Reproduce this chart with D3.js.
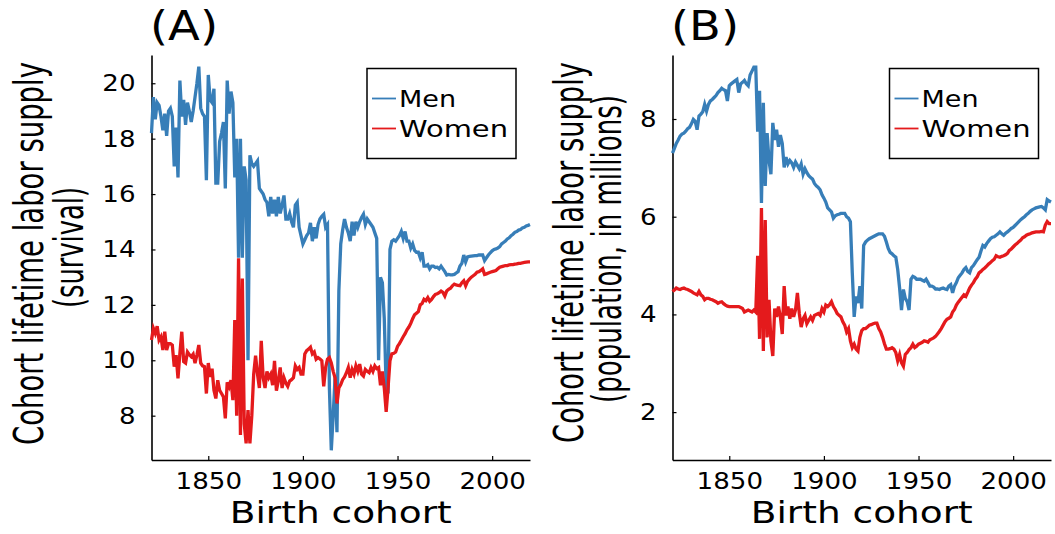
<!DOCTYPE html>
<html><head><meta charset="utf-8">
<script src="https://cdn.jsdelivr.net/npm/d3@7"></script>
<style>
html,body{margin:0;padding:0;background:#fff;}
svg{display:block;}
text{font-family:"DejaVu Sans",sans-serif;fill:#000;}
</style></head>
<body>
<svg id="chart" width="1055" height="534"></svg>
<script>
// ---------- DATA ----------
const startYear = 1820;
const endYear = 2020;
const seriesNames = ["Men", "Women"];
const panelTitles = ["(A)", "(B)"];
const xLabel = "Birth cohort";
const yLabelsA = ["Cohort lifetime labor supply", "(survival)"];
const yLabelsB = ["Cohort lifetime labor supply", "(population, in millions)"];
const xTicks = [1850, 1900, 1950, 2000];
const yTicksA = [8, 10, 12, 14, 16, 18, 20];
const yTicksB = [2, 4, 6, 8];

// Panel A: survival-based lifetime labor supply, one value per year 1820..2020
const menA = [
18.2,19.5,18.7,19.3,19.2,18.8,18.3,18.9,18.1,19.0,
19.1,18.8,17.0,18.4,16.6,20.1,18.8,19.4,18.5,19.3,
19.0,18.6,19.0,19.5,20.0,20.6,19.1,18.9,18.8,16.5,
20.3,19.4,19.3,19.8,16.4,16.4,17.9,18.2,18.6,16.2,
20.1,18.9,19.7,19.3,16.6,18.0,13.7,18.0,13.7,17.0,
16.5,10.0,17.4,17.1,17.0,17.1,17.2,16.2,16.1,16.0,
15.8,15.7,15.2,15.9,15.3,15.8,15.2,15.9,15.3,15.6,
15.95,15.1,15.1,15.3,15.0,14.8,15.6,15.7,14.8,14.5,
14.2,14.35,14.5,14.6,14.96,14.3,14.8,14.4,14.9,15.1,
15.2,15.27,14.8,14.9,9.0,6.75,8.0,9.4,7.4,12.5,
14.2,14.7,15.1,14.8,14.6,14.3,15.0,14.5,15.0,14.8,
15.0,15.15,15.27,14.9,15.1,15.0,14.9,14.8,14.6,14.4,
10.0,13.0,12.8,11.5,9.0,8.8,14.0,14.3,14.35,14.3,
14.4,14.5,14.65,14.4,14.65,14.3,14.3,14.05,14.2,13.97,
13.9,13.9,13.7,13.9,13.4,13.4,13.45,13.3,13.4,13.4,
13.35,13.36,13.3,13.4,13.3,13.2,13.08,13.1,13.08,13.08,
13.1,13.15,13.2,13.4,13.5,13.8,13.55,13.73,13.75,13.76,
13.77,13.78,13.78,13.8,13.8,13.8,13.6,13.7,13.8,13.88,
13.95,14.0,14.02,14.05,14.1,14.2,14.25,14.3,14.38,14.42,
14.5,14.55,14.62,14.65,14.7,14.72,14.78,14.8,14.85,14.87,
14.9];
const womenA = [
10.73,11.15,10.97,11.23,10.73,10.85,10.37,11.03,10.37,10.6,
10.6,10.55,9.77,10.19,9.35,10.25,11.03,9.95,9.9,10.3,
10.2,10.13,10.22,9.9,10.19,10.55,9.9,9.8,9.77,8.8,
9.9,9.4,9.7,8.92,8.62,9.28,8.92,8.8,8.68,7.9,
9.2,9.04,9.28,8.56,11.45,8.0,13.68,7.3,12.95,7.7,
7.0,8.2,7.0,8.0,9.5,10.17,9.5,9.0,10.7,9.37,
9.0,9.6,9.37,9.5,9.1,9.98,8.9,9.25,9.74,9.0,
9.37,9.18,9.06,9.25,9.3,9.37,9.8,9.67,9.74,9.5,
9.5,10.23,10.35,10.4,10.47,10.23,10.3,10.04,10.1,10.05,
9.98,9.06,9.74,10.04,10.1,9.9,9.6,9.37,8.44,9.0,
9.12,9.3,9.4,9.55,9.74,9.37,9.67,9.5,9.8,9.6,
9.86,9.5,9.43,9.67,9.6,9.55,9.74,9.6,9.8,9.7,
9.74,9.1,9.6,9.0,8.14,9.0,9.98,10.23,10.25,10.3,
10.5,10.6,10.72,10.85,10.96,11.1,11.2,11.33,11.5,11.64,
11.7,11.76,12.0,12.05,12.2,12.15,12.26,12.13,12.2,12.3,
12.38,12.4,12.44,12.5,12.45,12.32,12.5,12.56,12.6,12.69,
12.75,12.72,12.7,12.69,12.8,12.87,12.69,12.85,12.93,13.0,
13.05,13.1,13.18,13.2,13.24,13.3,13.1,13.12,13.15,13.18,
13.2,13.22,13.24,13.3,13.36,13.38,13.4,13.42,13.42,13.44,
13.45,13.45,13.47,13.48,13.5,13.5,13.52,13.53,13.54,13.55,
13.55];

// Panel B: population-based lifetime labor supply (millions), 1820..2020
const menB = [
7.30,7.40,7.50,7.57,7.65,7.69,7.71,7.75,7.80,7.83,
7.90,7.99,7.95,7.78,8.06,8.10,8.15,8.30,8.16,8.30,
8.37,8.40,8.44,8.48,8.54,8.58,8.63,8.60,8.58,8.37,
8.68,8.72,8.75,8.78,8.81,8.54,8.72,8.75,8.79,8.72,
8.68,8.90,8.98,9.06,9.06,7.74,8.58,6.28,8.33,6.63,
7.71,7.15,6.87,7.92,7.57,7.78,7.43,7.67,7.50,7.01,
7.22,7.08,7.15,7.10,7.01,7.12,7.05,6.98,7.08,6.87,
6.98,6.90,6.84,6.80,6.77,6.68,6.63,6.60,6.55,6.45,
6.38,6.30,6.18,6.14,6.10,5.97,6.02,6.04,6.05,6.07,
6.07,6.07,6.00,5.97,5.90,4.85,3.95,4.37,4.23,4.58,
4.12,5.41,5.48,5.52,5.55,5.57,5.59,5.61,5.63,5.65,
5.65,5.65,5.60,5.48,5.35,5.27,5.24,5.20,5.17,4.92,
4.54,4.09,4.51,4.33,4.26,4.09,4.72,4.78,4.76,4.72,
4.72,4.72,4.70,4.68,4.72,4.65,4.58,4.58,4.56,4.52,
4.52,4.51,4.53,4.54,4.52,4.51,4.58,4.61,4.44,4.58,
4.65,4.75,4.80,4.85,4.92,4.96,4.88,4.85,4.96,5.00,
5.06,5.12,5.17,5.30,5.41,5.38,5.45,5.50,5.55,5.58,
5.59,5.62,5.65,5.69,5.65,5.62,5.66,5.69,5.72,5.76,
5.78,5.82,5.86,5.90,5.94,5.97,6.00,6.04,6.07,6.11,
6.14,6.16,6.18,6.19,6.20,6.21,6.18,6.14,6.35,6.32,
6.30];
const womenB = [
4.47,4.50,4.54,4.52,4.51,4.53,4.54,4.52,4.51,4.49,
4.47,4.44,4.42,4.40,4.47,4.40,4.37,4.30,4.33,4.33,
4.31,4.30,4.28,4.26,4.23,4.25,4.26,4.22,4.19,4.17,
4.16,4.16,4.16,4.16,4.16,4.16,4.14,4.12,4.05,4.07,
4.09,4.07,4.05,4.09,4.05,5.20,3.50,6.18,3.25,5.93,
3.53,4.30,3.46,3.15,4.12,3.95,4.16,3.95,3.60,4.58,
3.98,4.16,3.91,4.12,3.95,4.09,4.44,4.02,3.74,3.91,
3.98,3.81,3.88,3.95,3.88,3.98,4.00,4.02,3.98,4.12,
4.05,4.19,4.16,4.20,4.26,4.16,4.10,4.02,3.98,3.95,
3.85,3.78,3.64,3.71,3.46,3.32,3.39,3.29,3.25,3.53,
3.67,3.71,3.71,3.74,3.78,3.79,3.81,3.82,3.82,3.71,
3.64,3.53,3.40,3.29,3.29,3.30,3.32,3.29,3.22,3.05,
3.18,3.01,2.94,3.18,3.22,3.28,3.32,3.39,3.32,3.35,
3.39,3.41,3.43,3.46,3.45,3.43,3.48,3.50,3.52,3.55,
3.60,3.65,3.71,3.78,3.85,3.90,3.92,3.95,4.05,4.10,
4.19,4.25,4.30,4.35,4.40,4.37,4.45,4.54,4.60,4.65,
4.72,4.77,4.85,4.88,4.92,4.95,4.99,5.03,5.06,5.10,
5.13,5.20,5.18,5.17,5.19,5.20,5.22,5.25,5.31,5.34,
5.38,5.42,5.45,5.49,5.52,5.57,5.59,5.62,5.64,5.65,
5.67,5.68,5.69,5.69,5.69,5.70,5.69,5.83,5.90,5.86,
5.86];

const colors = ["#377eb8", "#e41a1c"];

// ---------- DRAW ----------
const svg = d3.select("#chart");
const years = d3.range(startYear, endYear + 1);

function panel(cfg) {
  const g = svg.append("g");
  const x = d3.scaleLinear().domain([startYear, endYear]).range([cfg.x0, cfg.x1]);
  const y = d3.scaleLinear().domain(cfg.ydom).range([cfg.y1, cfg.y0]);

  // axes
  const ya = d3.axisLeft(y).tickValues(cfg.yticks).tickFormat(d3.format("d"))
    .tickSizeInner(-4).tickSizeOuter(0).tickPadding(16);
  const yg = g.append("g").attr("transform", `translate(${cfg.x0},0)`).call(ya);
  const xa = d3.axisBottom(x).tickValues(xTicks).tickFormat(d3.format("d"))
    .tickSizeInner(-4).tickSizeOuter(0).tickPadding(13);
  const xg = g.append("g").attr("transform", `translate(0,${cfg.y1})`).call(xa);
  [yg, xg].forEach(a => {
    a.select(".domain").attr("stroke", "#000").attr("stroke-width", 1.6);
    a.selectAll(".tick line").attr("stroke", "#000").attr("stroke-width", 1.2);
    a.selectAll(".tick text").attr("font-size", 23).attr("font-family", "DejaVu Sans")
      .attr("fill", "#000")
      .attr("textLength", d => String(d).length * 16.6)
      .attr("lengthAdjust", "spacingAndGlyphs");
  });

  // lines
  const line = d3.line().x((d, i) => x(years[i])).y(d => y(d));
  cfg.series.forEach((s, k) => {
    g.append("path").datum(s).attr("d", line)
      .attr("fill", "none").attr("stroke", colors[k]).attr("stroke-width", 3.3)
      .attr("stroke-linejoin", "miter");
  });

  // title
  g.append("text").attr("x", cfg.titleX).attr("y", 40).attr("font-size", 40)
    .attr("textLength", 68).attr("lengthAdjust", "spacingAndGlyphs").text(cfg.title);

  // x label
  g.append("text").attr("x", (cfg.x0 + cfg.x1) / 2).attr("y", 523).attr("text-anchor", "middle")
    .attr("font-size", 31).attr("textLength", 222).attr("lengthAdjust", "spacingAndGlyphs")
    .text(xLabel);

  // y labels (condensed: small font, stretched across the line height)
  cfg.ylab.forEach((t, i) => {
    const base = 28;
    const tx = g.append("text")
      .attr("text-anchor", "middle").attr("font-size", base)
      .text(t);
    const w = tx.node().getComputedTextLength();
    tx.attr("transform",
      `translate(${cfg.ylabX[i]},${cfg.ylabC[i]}) rotate(-90) scale(${cfg.ylabLen[i] / w},${41 / base})`);
  });

  // legend
  const lg = g.append("g");
  lg.append("rect").attr("x", cfg.legX).attr("y", 68.5).attr("width", 149).attr("height", 90)
    .attr("fill", "#fff").attr("stroke", "#000").attr("stroke-width", 1.5);
  seriesNames.forEach((n, k) => {
    const ly = 98.5 + k * 30;
    lg.append("line").attr("x1", cfg.legX + 5).attr("x2", cfg.legX + 29)
      .attr("y1", ly).attr("y2", ly).attr("stroke", colors[k]).attr("stroke-width", 1.8);
    lg.append("text").attr("x", cfg.legX + 32).attr("y", ly + 8.3).attr("font-size", 23)
      .attr("textLength", k === 0 ? 57 : 109).attr("lengthAdjust", "spacingAndGlyphs")
      .text(n);
  });
}

panel({
  x0: 151.5, x1: 530, y0: 55, y1: 460, ydom: [6.4, 21.02], yticks: yTicksA,
  series: [menA, womenA], title: panelTitles[0], titleX: 150,
  ylab: yLabelsA, ylabX: [43, 83], ylabC: [253.5, 247.5], ylabLen: [383, 121],
  legX: 367
});
panel({
  x0: 672.5, x1: 1051, y0: 55, y1: 460, ydom: [1.02, 9.31], yticks: yTicksB,
  series: [menB, womenB], title: panelTitles[1], titleX: 671,
  ylab: yLabelsB, ylabX: [583, 621], ylabC: [252.5, 249], ylabLen: [381, 308],
  legX: 889.5
});
</script>
</body></html>
